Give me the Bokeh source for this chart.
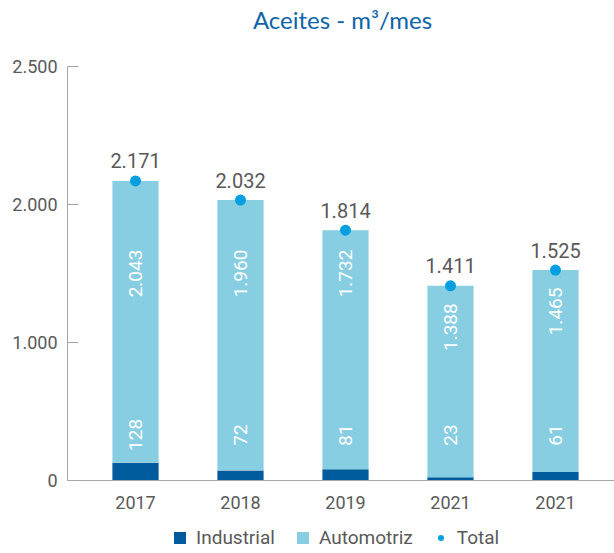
import numpy as np
from bokeh.plotting import figure
from bokeh.models import ColumnDataSource, FixedTicker, Range1d, Legend, LegendItem, Span
from bokeh.core.properties import value
from bokeh.embed import file_html
from bokeh.resources import INLINE

# ---- data ----
years = ["2017", "2018", "2019", "2021", "2021"]
industrial = [128, 72, 81, 23, 61]
automotriz = [2043, 1960, 1732, 1388, 1465]
total = [2171, 2032, 1814, 1411, 1525]
y_ticks = [0, 1000, 2000, 3000]
y_tick_labels = ["0", "1.000", "2.000", "2.500"]
title_text = "Aceites - m³/mes"

FONT = "Roboto"
TITLE_FONT = "Lato"
C_IND = "#005b9c"
C_AUT = "#88cee3"
C_TOT = "#009fe1"
C_TXT = "#595959"
C_AX = "#a6a6a6"
C_TITLE = "#0e64a8"


def fmt(v):
    return f"{v:,}".replace(",", ".")


x = list(range(len(years)))
ind = np.array(industrial)
aut = np.array(automotriz)
tot = np.array(total)

src = ColumnDataSource(dict(
    x=x,
    ind=[int(v) for v in ind],
    top=[int(v) for v in ind + aut],
    tot=total,
    ind_lbl=[fmt(v) for v in industrial],
    aut_lbl=[fmt(v) for v in automotriz],
    tot_lbl=[fmt(v) for v in total],
    aut_y=[int(v) for v in np.minimum(tot - 300, 1500)],
    ind_y=[330] * len(x),
    year=years,
    year_y=[-109] * len(x),
))

# frame covers the whole figure height; y=0 is the category axis line
p = figure(width=614, height=553, output_backend="svg", toolbar_location=None,
           x_range=Range1d(-0.6476, 4.5619), y_range=Range1d(-529.0, 3478.3),
           x_axis_type=None,
           min_border_left=67, min_border_right=0, min_border_top=0, min_border_bottom=0)
p.outline_line_color = None
p.ygrid.grid_line_color = None

r_ind = p.vbar(x="x", bottom=0, top="ind", width=0.44, source=src, fill_color=C_IND, line_color=None)
r_aut = p.vbar(x="x", bottom="ind", top="top", width=0.44, source=src, fill_color=C_AUT, line_color=None)
r_tot = p.scatter(x="x", y="tot", source=src, size=11, fill_color=C_TOT, line_color=None)

# category axis line and labels
p.add_layout(Span(location=0, dimension="width", line_color=C_AX, line_width=1))
p.text(x="x", y="year_y", text="year", source=src, text_align="center", text_baseline="top",
       text_color=C_TXT, text_font=value(FONT), text_font_size="18px")

p.text(x="x", y="aut_y", text="aut_lbl", source=src, angle=np.pi / 2,
       text_align="center", text_baseline="middle", text_color="white",
       text_font=value(FONT), text_font_size="19px")
p.text(x="x", y="ind_y", text="ind_lbl", source=src, angle=np.pi / 2,
       text_align="center", text_baseline="middle", text_color="white",
       text_font=value(FONT), text_font_size="19px")
p.text(x="x", y="tot", text="tot_lbl", source=src, y_offset=-20,
       text_align="center", text_baseline="alphabetic", text_color=C_TXT,
       text_font=value(FONT), text_font_size="20px")

# title
p.text(x=[1.971], y=[3340.6], text=[title_text], text_align="center", text_baseline="middle",
       text_color=C_TITLE, text_font=value(TITLE_FONT), text_font_size="24px")

# value axis
p.yaxis.bounds = (0, 3000)
p.yaxis.ticker = FixedTicker(ticks=y_ticks)
p.yaxis.major_label_overrides = {t: l for t, l in zip(y_ticks, y_tick_labels)}
p.yaxis.major_tick_in = 11
p.yaxis.major_tick_out = 0
p.yaxis.minor_tick_line_color = None
p.yaxis.axis_line_color = C_AX
p.yaxis.major_tick_line_color = C_AX
p.yaxis.major_label_standoff = 10
p.yaxis.major_label_text_font = FONT
p.yaxis.major_label_text_font_size = "18px"
p.yaxis.major_label_text_color = C_TXT

legend = Legend(items=[
    LegendItem(label="Industrial", renderers=[r_ind]),
    LegendItem(label="Automotriz", renderers=[r_aut]),
    LegendItem(label="Total", renderers=[r_tot]),
], orientation="horizontal", location=(105, 4))
legend.border_line_color = None
legend.background_fill_alpha = 0
legend.glyph_width = 15
legend.glyph_height = 15
legend.label_height = 16
legend.label_standoff = 9
legend.spacing = 20
legend.padding = 0
legend.margin = 0
legend.label_text_font = FONT
legend.label_text_font_size = "19px"
legend.label_text_color = C_TXT
p.add_layout(legend)

open("out.html", "w").write(file_html(p, INLINE))
